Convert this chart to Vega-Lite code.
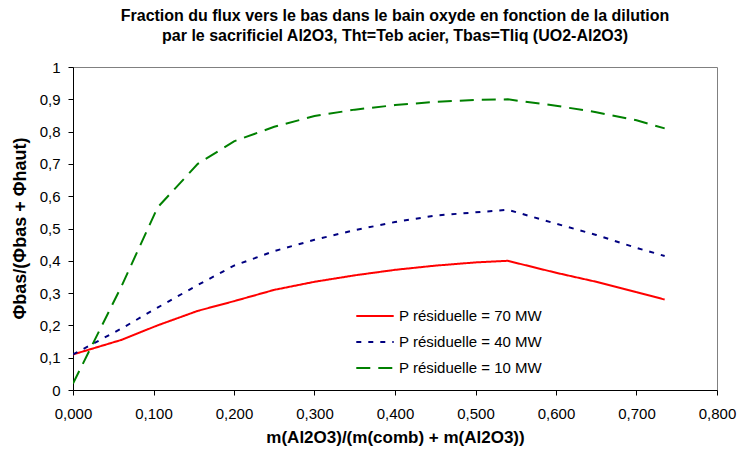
{
  "$schema": "https://vega.github.io/schema/vega-lite/v6.json",
  "width": 644,
  "height": 323,
  "autosize": {"type": "none"},
  "padding": {"left": 73, "top": 67, "right": 20, "bottom": 60},
  "background": "white",
  "config": {
    "font": "Liberation Sans",
    "view": {"stroke": "#808080", "strokeWidth": 1}
  },
  "title": {
    "text": ["Fraction du flux vers le bas dans le bain oxyde en fonction de la dilution", "par le sacrificiel Al2O3, Tht=Teb acier, Tbas=Tliq (UO2-Al2O3)"],
    "fontSize": 16,
    "fontWeight": "bold",
    "color": "#000",
    "anchor": "middle",
    "lineHeight": 20,
    "offset": 16
  },
  "data": {
    "values": [
      {"x": 0.0, "y": 0.11, "serie": "P résiduelle = 70 MW"},
      {"x": 0.06, "y": 0.155, "serie": "P résiduelle = 70 MW"},
      {"x": 0.105, "y": 0.2, "serie": "P résiduelle = 70 MW"},
      {"x": 0.155, "y": 0.245, "serie": "P résiduelle = 70 MW"},
      {"x": 0.2, "y": 0.275, "serie": "P résiduelle = 70 MW"},
      {"x": 0.25, "y": 0.31, "serie": "P résiduelle = 70 MW"},
      {"x": 0.3, "y": 0.335, "serie": "P résiduelle = 70 MW"},
      {"x": 0.35, "y": 0.355, "serie": "P résiduelle = 70 MW"},
      {"x": 0.4, "y": 0.372, "serie": "P résiduelle = 70 MW"},
      {"x": 0.45, "y": 0.385, "serie": "P résiduelle = 70 MW"},
      {"x": 0.5, "y": 0.395, "serie": "P résiduelle = 70 MW"},
      {"x": 0.54, "y": 0.4, "serie": "P résiduelle = 70 MW"},
      {"x": 0.6, "y": 0.363, "serie": "P résiduelle = 70 MW"},
      {"x": 0.65, "y": 0.335, "serie": "P résiduelle = 70 MW"},
      {"x": 0.7, "y": 0.303, "serie": "P résiduelle = 70 MW"},
      {"x": 0.735, "y": 0.28, "serie": "P résiduelle = 70 MW"},
      {"x": 0.0, "y": 0.11, "serie": "P résiduelle = 40 MW"},
      {"x": 0.06, "y": 0.19, "serie": "P résiduelle = 40 MW"},
      {"x": 0.105, "y": 0.255, "serie": "P résiduelle = 40 MW"},
      {"x": 0.155, "y": 0.325, "serie": "P résiduelle = 40 MW"},
      {"x": 0.2, "y": 0.385, "serie": "P résiduelle = 40 MW"},
      {"x": 0.25, "y": 0.43, "serie": "P résiduelle = 40 MW"},
      {"x": 0.3, "y": 0.465, "serie": "P résiduelle = 40 MW"},
      {"x": 0.35, "y": 0.495, "serie": "P résiduelle = 40 MW"},
      {"x": 0.4, "y": 0.52, "serie": "P résiduelle = 40 MW"},
      {"x": 0.45, "y": 0.54, "serie": "P résiduelle = 40 MW"},
      {"x": 0.5, "y": 0.55, "serie": "P résiduelle = 40 MW"},
      {"x": 0.54, "y": 0.558, "serie": "P résiduelle = 40 MW"},
      {"x": 0.6, "y": 0.515, "serie": "P résiduelle = 40 MW"},
      {"x": 0.65, "y": 0.48, "serie": "P résiduelle = 40 MW"},
      {"x": 0.7, "y": 0.44, "serie": "P résiduelle = 40 MW"},
      {"x": 0.735, "y": 0.415, "serie": "P résiduelle = 40 MW"},
      {"x": 0.0, "y": 0.02, "serie": "P résiduelle = 10 MW"},
      {"x": 0.06, "y": 0.32, "serie": "P résiduelle = 10 MW"},
      {"x": 0.105, "y": 0.565, "serie": "P résiduelle = 10 MW"},
      {"x": 0.155, "y": 0.7, "serie": "P résiduelle = 10 MW"},
      {"x": 0.2, "y": 0.77, "serie": "P résiduelle = 10 MW"},
      {"x": 0.25, "y": 0.815, "serie": "P résiduelle = 10 MW"},
      {"x": 0.3, "y": 0.848, "serie": "P résiduelle = 10 MW"},
      {"x": 0.35, "y": 0.868, "serie": "P résiduelle = 10 MW"},
      {"x": 0.4, "y": 0.882, "serie": "P résiduelle = 10 MW"},
      {"x": 0.45, "y": 0.892, "serie": "P résiduelle = 10 MW"},
      {"x": 0.5, "y": 0.898, "serie": "P résiduelle = 10 MW"},
      {"x": 0.54, "y": 0.9, "serie": "P résiduelle = 10 MW"},
      {"x": 0.6, "y": 0.88, "serie": "P résiduelle = 10 MW"},
      {"x": 0.65, "y": 0.86, "serie": "P résiduelle = 10 MW"},
      {"x": 0.7, "y": 0.835, "serie": "P résiduelle = 10 MW"},
      {"x": 0.735, "y": 0.81, "serie": "P résiduelle = 10 MW"}
    ]
  },
  "mark": {"type": "line", "strokeWidth": 2, "clip": true},
  "encoding": {
    "x": {
      "field": "x",
      "type": "quantitative",
      "scale": {"domain": [0, 0.8], "nice": false, "zero": false},
      "axis": {
        "title": "m(Al2O3)/(m(comb) + m(Al2O3))",
        "values": [0, 0.1, 0.2, 0.3, 0.4, 0.5, 0.6, 0.7, 0.8],
        "labelExpr": "replace(format(datum.value, '.3f'), '.', ',')",
        "grid": false,
        "domainColor": "#000",
        "tickColor": "#000",
        "tickSize": 5,
        "labelFontSize": 15,
        "labelColor": "#000",
        "labelPadding": 11,
        "labelFlush": false,
        "titleFontSize": 17,
        "titleFontWeight": "bold",
        "titleColor": "#000",
        "titlePadding": 8
      }
    },
    "y": {
      "field": "y",
      "type": "quantitative",
      "scale": {"domain": [0, 1], "nice": false},
      "axis": {
        "title": "Φbas/(Φbas + Φhaut)",
        "values": [0, 0.1, 0.2, 0.3, 0.4, 0.5, 0.6, 0.7, 0.8, 0.9, 1],
        "labelExpr": "replace(format(datum.value, '.1~f'), '.', ',')",
        "grid": false,
        "domainColor": "#000",
        "tickColor": "#000",
        "tickSize": 5,
        "labelFontSize": 15,
        "labelColor": "#000",
        "labelPadding": 8,
        "labelFlush": false,
        "titleFontSize": 18,
        "titleFontWeight": "bold",
        "titleColor": "#000",
        "titleX": -53,
        "titleY": 161,
        "titleAngle": -90,
        "titleAlign": "center",
        "titleBaseline": "middle"
      }
    },
    "color": {
      "field": "serie",
      "type": "nominal",
      "sort": ["P résiduelle = 70 MW", "P résiduelle = 40 MW", "P résiduelle = 10 MW"],
      "scale": {
        "domain": ["P résiduelle = 70 MW", "P résiduelle = 40 MW", "P résiduelle = 10 MW"],
        "range": ["#FF0000", "#000080", "#008000"]
      },
      "legend": {
        "title": null,
        "orient": "none",
        "legendX": 282,
        "legendY": 241,
        "symbolType": "stroke",
        "symbolSize": 1400,
        "symbolStrokeWidth": 2,
        "clipHeight": 16,
        "labelFontSize": 15,
        "labelColor": "#000",
        "labelOffset": 4,
        "rowPadding": 10,
        "labelLimit": 300
      }
    },
    "strokeDash": {
      "field": "serie",
      "type": "nominal",
      "sort": ["P résiduelle = 70 MW", "P résiduelle = 40 MW", "P résiduelle = 10 MW"],
      "scale": {
        "domain": ["P résiduelle = 70 MW", "P résiduelle = 40 MW", "P résiduelle = 10 MW"],
        "range": [[1, 0], [5, 7], [14, 8]]
      },
      "legend": null
    }
  }
}
